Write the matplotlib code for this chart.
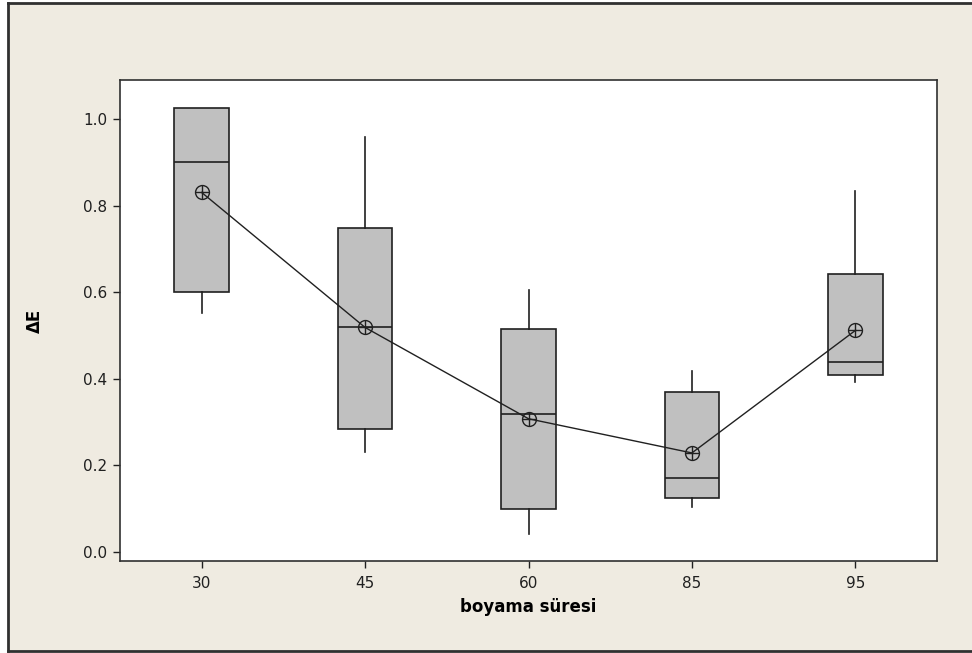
import matplotlib
matplotlib.use("Agg")
import matplotlib.pyplot as plt
from matplotlib.lines import Line2D

categories = ["30", "45", "60", "85", "95"]
whisker_low = [0.553, 0.232, 0.041, 0.103, 0.393]
q1 = [0.601, 0.285, 0.100, 0.125, 0.409]
median = [0.902, 0.519, 0.319, 0.172, 0.440]
q3 = [1.027, 0.749, 0.515, 0.370, 0.643]
whisker_high = [1.027, 0.959, 0.606, 0.418, 0.835]
means = [0.831, 0.519, 0.308, 0.229, 0.512]

W, H = 972, 653
fig = plt.figure(figsize=(W / 100, H / 100), dpi=100)
fig.patch.set_facecolor("white")

# beige panel with left/top/bottom border
bg_col = "#EFEBE1"
fig.patches.append(plt.Rectangle((8 / W, 1 - 651 / H), 1 - 8 / W, 648 / H,
                                 transform=fig.transFigure, facecolor=bg_col,
                                 edgecolor="none", zorder=-10))
for xs, ys in [([8, 8], [3, 651]), ([8, W], [3, 3]), ([8, W], [651, 651])]:
    fig.add_artist(Line2D([x / W for x in xs], [1 - y / H for y in ys],
                          transform=fig.transFigure, color="#303030", lw=2.0,
                          zorder=-5))

left, right, top, bottom = 120, 937, 80, 561
ax = fig.add_axes([left / W, 1 - bottom / H, (right - left) / W, (bottom - top) / H])
ax.set_zorder(1)
ax.set_facecolor("white")

stats = []
for i in range(len(categories)):
    stats.append(dict(whislo=whisker_low[i], q1=q1[i], med=median[i], q3=q3[i],
                      whishi=whisker_high[i], fliers=[], label=categories[i]))

pos = list(range(1, len(categories) + 1))
lc = "#202020"
ax.bxp(stats, positions=pos, widths=0.335, patch_artist=True, showcaps=False,
       boxprops=dict(facecolor="#C0C0C0", edgecolor=lc, linewidth=1.2),
       medianprops=dict(color=lc, linewidth=1.2),
       whiskerprops=dict(color=lc, linewidth=1.2))

ax.plot(pos, means, color=lc, lw=1.0, zorder=4)
ax.plot(pos, means, linestyle="none", marker="o", markersize=10, mfc="none",
        mec=lc, mew=1.0, zorder=5)
ax.plot(pos, means, linestyle="none", marker="+", markersize=10,
        mec=lc, mew=1.0, zorder=5)

ax.set_xlim(0.5, 5.5)
ax.set_ylim(-0.0208, 1.091)
ax.set_yticks([0.0, 0.2, 0.4, 0.6, 0.8, 1.0])
ax.set_yticklabels(["0.0", "0.2", "0.4", "0.6", "0.8", "1.0"])
ax.set_xticks(pos)
ax.set_xticklabels(categories)
ax.tick_params(axis="both", labelsize=11, colors="#202020", length=5, width=1.0)
ax.tick_params(axis="x", pad=6)
ax.tick_params(axis="y", pad=4)
for s in ax.spines.values():
    s.set_color("#303030")
    s.set_linewidth(1.2)

ax.set_xlabel("boyama süresi", fontsize=12, fontweight="bold", labelpad=5)
ax.set_ylabel("ΔE", fontsize=12, fontweight="bold", labelpad=28)

fig.savefig("out.png", dpi=100, facecolor=fig.get_facecolor())
